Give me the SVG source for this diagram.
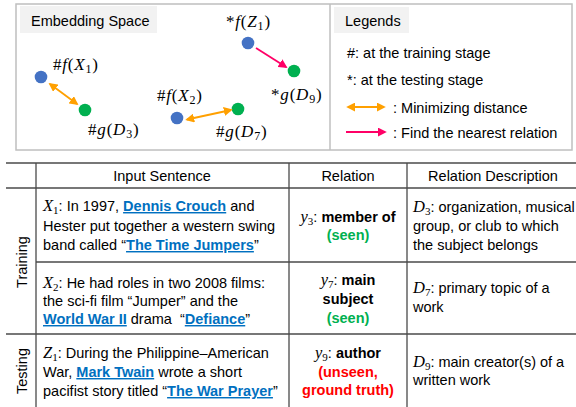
<svg xmlns="http://www.w3.org/2000/svg" width="576" height="407" viewBox="0 0 576 407">
<style>
text{font-family:"Liberation Sans",Arial,sans-serif;font-size:14.5px;fill:#000}
.m{font-family:"Liberation Serif","DejaVu Serif",serif;font-size:17px;letter-spacing:0.8px}
.i{font-style:italic;font-family:"Liberation Serif","DejaVu Serif",serif}
.mi{font-style:italic;font-family:"Liberation Serif","DejaVu Serif",serif;font-size:16.5px}
.sb{font-family:"Liberation Serif","DejaVu Serif",serif;font-size:11px}
.lk{fill:#0070C0;font-weight:bold;text-decoration:underline}
.b{font-weight:bold}
.g{fill:#00B050;font-weight:bold}
.r{fill:#FF0000;font-weight:bold}
.tl{stroke:#4a4a4a;stroke-width:1.3;fill:none}
.bl{fill:#4472C4}
.gr{fill:#00B050}
.oa{stroke:#FFA000;stroke-width:1.8;fill:none;marker-start:url(#ao);marker-end:url(#ao)}
.pa{stroke:#FF0066;stroke-width:1.8;fill:none;marker-end:url(#ap)}
</style>
<defs>
<marker id="ao" viewBox="0 0 10 10" refX="8" refY="5" markerWidth="5" markerHeight="5" orient="auto-start-reverse"><path d="M0,0 L10,5 L0,10 Z" fill="#FFA000"/></marker>
<marker id="ap" viewBox="0 0 10 10" refX="8" refY="5" markerWidth="5" markerHeight="5" orient="auto"><path d="M0,0 L10,5 L0,10 Z" fill="#FF0066"/></marker>
</defs>
<rect width="576" height="407" fill="#fff"/>

<g id="top-panel">
<rect x="16" y="4" width="556" height="146" fill="none" stroke="#BFBFBF" stroke-width="1.5"/>
<line x1="330" y1="4" x2="330" y2="150" stroke="#BFBFBF" stroke-width="1.5"/>
</g>

<g id="embedding-title">
<rect x="20" y="6" width="137" height="27" fill="#F2F2F2"/>
<text x="31" y="26" font-size="14">Embedding Space</text>
</g>

<g id="legends">
<rect x="334" y="7" width="75" height="26" fill="#F2F2F2"/>
<text x="345" y="26">Legends</text>
<text x="347" y="58">#: at the training stage</text>
<text x="347" y="85">*: at the testing stage</text>
<text x="393" y="113">: Minimizing distance</text>
<text x="393" y="138">: Find the nearest relation</text>
</g>

<g id="node-fX1">
<circle class="bl" cx="41" cy="77" r="6.3"/>
<text class="m" x="53" y="70">#<tspan class="i">f</tspan>(<tspan class="i">X</tspan><tspan font-size="12" dy="3">1</tspan><tspan dy="-3">)</tspan></text>
</g>
<g id="node-gD3">
<circle class="gr" cx="85" cy="110" r="6.3"/>
<text class="m" x="88" y="135">#<tspan class="i">g</tspan>(<tspan class="i">D</tspan><tspan font-size="12" dy="3">3</tspan><tspan dy="-3">)</tspan></text>
</g>
<g id="node-fX2">
<circle class="bl" cx="177" cy="118" r="6.3"/>
<text class="m" x="157" y="101">#<tspan class="i">f</tspan>(<tspan class="i">X</tspan><tspan font-size="12" dy="3">2</tspan><tspan dy="-3">)</tspan></text>
</g>
<g id="node-gD7">
<circle class="gr" cx="238" cy="109" r="6.3"/>
<text class="m" x="216" y="137">#<tspan class="i">g</tspan>(<tspan class="i">D</tspan><tspan font-size="12" dy="3">7</tspan><tspan dy="-3">)</tspan></text>
</g>
<g id="node-fZ1">
<circle class="bl" cx="248" cy="43" r="6.3"/>
<text class="m" x="226" y="27">*<tspan class="i">f</tspan>(<tspan class="i">Z</tspan><tspan font-size="12" dy="3">1</tspan><tspan dy="-3">)</tspan></text>
</g>
<g id="node-gD9">
<circle class="gr" cx="294" cy="71" r="6.3"/>
<text class="m" x="271" y="100">*<tspan class="i">g</tspan>(<tspan class="i">D</tspan><tspan font-size="12" dy="3">9</tspan><tspan dy="-3">)</tspan></text>
</g>

<g id="connectors">
<line class="oa" x1="50" y1="84" x2="77" y2="104"/>
<line class="oa" x1="187" y1="119.5" x2="231" y2="110"/>
<line class="pa" x1="256" y1="48" x2="286" y2="67"/>
<line class="oa" x1="348" y1="107" x2="384" y2="107"/>
<line class="pa" x1="346" y1="132" x2="385" y2="132"/>
</g>

<g id="table">
<line class="tl" x1="6" y1="163" x2="576" y2="163"/>
<line class="tl" x1="6" y1="188" x2="576" y2="188"/>
<line class="tl" x1="36" y1="262" x2="576" y2="262"/>
<line class="tl" x1="6" y1="334" x2="576" y2="334"/>
<line class="tl" x1="36" y1="163" x2="36" y2="407"/>
<line class="tl" x1="289" y1="163" x2="289" y2="407"/>
<line class="tl" x1="407" y1="163" x2="407" y2="407"/>
</g>

<g id="header">
<text x="162" y="181" text-anchor="middle">Input Sentence</text>
<text x="348" y="181" text-anchor="middle">Relation</text>
<text x="493" y="181" text-anchor="middle">Relation Description</text>
</g>

<g id="stage-labels">
<text transform="translate(27,262) rotate(-90)" text-anchor="middle">Training</text>
<text transform="translate(27,371) rotate(-90)" text-anchor="middle">Testing</text>
</g>

<g id="row1">
<text x="43" y="211"><tspan class="mi">X</tspan><tspan class="sb" dy="3">1</tspan><tspan dy="-3">: In 1997, </tspan><tspan class="lk">Dennis Crouch</tspan> and</text>
<text x="43" y="230.5">Hester put together a western swing</text>
<text x="43" y="250">band called “<tspan class="lk">The Time Jumpers</tspan>”</text>
<text x="348" y="222" text-anchor="middle"><tspan class="mi">y</tspan><tspan class="sb" dy="3">3</tspan><tspan dy="-3">: </tspan><tspan class="b">member of</tspan></text>
<text x="348" y="240" text-anchor="middle" class="g">(seen)</text>
<text x="413" y="212"><tspan class="mi">D</tspan><tspan class="sb" dy="3">3</tspan><tspan dy="-3">: organization, musical</tspan></text>
<text x="413" y="231">group, or club to which</text>
<text x="413" y="250">the subject belongs</text>
</g>

<g id="row2">
<text x="43" y="288"><tspan class="mi">X</tspan><tspan class="sb" dy="3">2</tspan><tspan dy="-3">: He had roles in two 2008 films:</tspan></text>
<text x="43" y="306">the sci-fi film “Jumper” and the</text>
<text x="43" y="324"><tspan class="lk">World War II</tspan> drama&#160; “<tspan class="lk">Defiance</tspan>”</text>
<text x="348" y="285" text-anchor="middle"><tspan class="mi">y</tspan><tspan class="sb" dy="3">7</tspan><tspan dy="-3">: </tspan><tspan class="b">main</tspan></text>
<text x="348" y="304" text-anchor="middle" class="b">subject</text>
<text x="348" y="323" text-anchor="middle" class="g">(seen)</text>
<text x="413" y="293"><tspan class="mi">D</tspan><tspan class="sb" dy="3">7</tspan><tspan dy="-3">: primary topic of a</tspan></text>
<text x="413" y="312">work</text>
</g>

<g id="row3">
<text x="43" y="358"><tspan class="mi">Z</tspan><tspan class="sb" dy="3">1</tspan><tspan dy="-3">: During the Philippine–American</tspan></text>
<text x="43" y="377">War, <tspan class="lk">Mark Twain</tspan> wrote a short</text>
<text x="43" y="396">pacifist story titled “<tspan class="lk">The War Prayer</tspan>”</text>
<text x="348" y="358" text-anchor="middle"><tspan class="mi">y</tspan><tspan class="sb" dy="3">9</tspan><tspan dy="-3">: </tspan><tspan class="b">author</tspan></text>
<text x="348" y="377" text-anchor="middle" class="r">(unseen,</text>
<text x="348" y="395" text-anchor="middle" class="r">ground truth)</text>
<text x="413" y="367"><tspan class="mi">D</tspan><tspan class="sb" dy="3">9</tspan><tspan dy="-3">: main creator(s) of a</tspan></text>
<text x="413" y="385">written work</text>
</g>
</svg>
